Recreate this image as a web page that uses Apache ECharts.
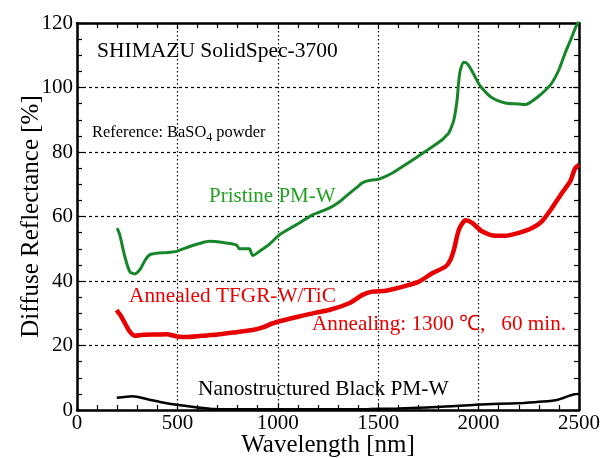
<!DOCTYPE html>
<html>
<head>
<meta charset="utf-8">
<script src="https://cdn.jsdelivr.net/npm/echarts@6/dist/echarts.min.js"></script>
<style>
  html, body { margin: 0; padding: 0; background: #fff; }
  #chart { width: 600px; height: 458px; }
</style>
</head>
<body>
<div id="chart"></div>
<script>
// Diffuse reflectance spectra (SolidSpec-3700, BaSO4 reference)
const pristineWl = [200, 213, 238, 263, 288, 313, 340, 362, 396, 445, 495, 561, 620, 660, 720, 793, 809, 859, 866, 875, 909, 960, 1008, 1060, 1107, 1173, 1256, 1306, 1340, 1389, 1420, 1438, 1470, 1504, 1571, 1637, 1736, 1819, 1836, 1850, 1860, 1877, 1893, 1902, 1910, 1926, 1945, 1968, 1985, 2009, 2067, 2133, 2200, 2233, 2260, 2299, 2330, 2365, 2400, 2431, 2460, 2489, 2500];
const pristineR = [56.4, 54.3, 47.6, 42.9, 42.2, 43.5, 46.5, 48.1, 48.6, 48.8, 49.2, 50.7, 51.8, 52.3, 52.0, 51.2, 50.0, 50.0, 49.0, 47.9, 49.2, 51.5, 54.3, 56.3, 58.0, 60.5, 62.6, 64.5, 66.3, 68.8, 70.4, 70.9, 71.3, 71.6, 73.5, 76.1, 80.2, 83.8, 84.9, 85.8, 87.0, 90.0, 96.2, 102.5, 105.6, 107.8, 107.3, 105.0, 103.0, 100.4, 96.8, 95.2, 94.9, 94.7, 95.5, 97.3, 99.0, 101.4, 105.5, 110.7, 115.0, 119.5, 120.5];

const annealedWl = [197, 215, 230, 263, 290, 329, 400, 445, 500, 545, 620, 700, 776, 875, 925, 975, 1040, 1107, 1190, 1256, 1355, 1422, 1471, 1538, 1637, 1703, 1769, 1836, 1860, 1877, 1902, 1935, 1968, 2017, 2084, 2133, 2200, 2266, 2315, 2365, 2415, 2456, 2481, 2500];
const annealedR = [31.0, 29.5, 27.9, 24.3, 23.0, 23.3, 23.4, 23.5, 22.8, 22.6, 23.0, 23.4, 24.0, 24.8, 25.6, 26.9, 28.0, 29.0, 30.2, 31.0, 33.1, 35.7, 36.7, 37.0, 38.5, 39.8, 42.4, 44.5, 46.6, 49.7, 55.9, 58.8, 58.0, 55.4, 54.0, 54.0, 54.9, 56.4, 58.5, 62.6, 67.3, 70.9, 75.0, 76.0];

const blackWl = [198, 275, 360, 420, 497, 600, 685, 800, 1000, 1200, 1454, 1600, 1796, 1985, 2100, 2224, 2320, 2395, 2446, 2472, 2500];
const blackR = [3.8, 4.3, 3.2, 2.4, 1.6, 0.8, 0.3, 0.2, 0.2, 0.2, 0.3, 0.5, 0.9, 1.6, 1.9, 2.2, 2.6, 3.2, 4.3, 4.8, 5.0];

const xTicks = { min: 0, max: 2500, interval: 500 };
const yTicks = { min: 0, max: 120, interval: 20 };

const FONT = '"Liberation Serif", "Times New Roman", serif';
const GREEN_LINE = '#17862a';
const GREEN_TEXT = '#22a022';
const RED = '#e60000';

function zip(xs, ys) { return xs.map((x, i) => [x, ys[i]]); }

const frameLine = { show: true, onZero: false, lineStyle: { color: '#000', width: 2.5 } };
const tickIn = { show: true, inside: true, length: 6, lineStyle: { color: '#000', width: 1.2 } };

function minor(n) {
  return { show: true, splitNumber: n, length: 5, lineStyle: { color: '#000', width: 1.2 } };
}

const chart = echarts.init(document.getElementById('chart'));
chart.setOption({
  animation: false,
  backgroundColor: '#fff',
  grid: { left: 77, right: 21, top: 23, bottom: 48, containLabel: false, outerBoundsMode: 'none' },
  xAxis: [
    {
      type: 'value', position: 'bottom', ...xTicks,
      axisLine: frameLine, axisTick: tickIn, minorTick: minor(5),
      splitLine: { show: true, lineStyle: { color: '#000', width: 1.2, type: [1.5, 2.5] } },
      axisLabel: { color: '#000', fontFamily: FONT, fontSize: 21, margin: 3, formatter: v => String(v) },
      name: 'Wavelength [nm]', nameLocation: 'middle', nameGap: 23, nameMoveOverlap: false,
      nameTextStyle: { color: '#000', fontFamily: FONT, fontSize: 25 }
    },
    {
      type: 'value', position: 'top', ...xTicks,
      axisLine: frameLine, axisTick: tickIn, minorTick: minor(5),
      splitLine: { show: false }, axisLabel: { show: false }
    }
  ],
  yAxis: [
    {
      type: 'value', position: 'left', ...yTicks,
      axisLine: frameLine, axisTick: tickIn, minorTick: minor(4),
      splitLine: { show: true, lineStyle: { color: '#000', width: 1.2, type: [3, 3] } },
      axisLabel: { color: '#000', fontFamily: FONT, fontSize: 21, margin: 4, formatter: v => String(v) },
      name: 'Diffuse Reflectance [%]', nameLocation: 'middle', nameGap: 33, nameMoveOverlap: false,
      nameTextStyle: { color: '#000', fontFamily: FONT, fontSize: 25 }
    },
    {
      type: 'value', position: 'right', ...yTicks,
      axisLine: frameLine, axisTick: tickIn, minorTick: minor(4),
      splitLine: { show: false }, axisLabel: { show: false }
    }
  ],
  series: [
    {
      name: 'Pristine PM-W', type: 'line', xAxisIndex: 0, yAxisIndex: 0,
      data: zip(pristineWl, pristineR), showSymbol: false, smooth: 0.25,
      lineStyle: { color: GREEN_LINE, width: 3 }, z: 3
    },
    {
      name: 'Annealed TFGR-W/TiC', type: 'line', xAxisIndex: 0, yAxisIndex: 0,
      data: zip(annealedWl, annealedR), showSymbol: false, smooth: 0.25,
      lineStyle: { color: RED, width: 4.5 }, z: 3
    },
    {
      name: 'Nanostructured Black PM-W', type: 'line', xAxisIndex: 0, yAxisIndex: 0,
      data: zip(blackWl, blackR), showSymbol: false, smooth: 0.25,
      lineStyle: { color: '#000', width: 2.5 }, z: 3
    }
  ],
  graphic: [
    { type: 'text', left: 97, top: 40, style: { text: 'SHIMAZU SolidSpec-3700', font: '21.5px ' + FONT, fill: '#000' } },
    {
      type: 'text', left: 92, top: 125,
      style: {
        text: 'Reference: BaSO{sub|4} powder', font: '16.4px ' + FONT, fill: '#000',
        rich: { sub: { font: '12px ' + FONT, fill: '#000', padding: [9, 0, 0, 0] } }
      }
    },
    { type: 'text', left: 209, top: 186, style: { text: 'Pristine PM-W', font: '21px ' + FONT, fill: GREEN_TEXT } },
    { type: 'text', left: 129, top: 286, style: { text: 'Annealed TFGR-W/TiC', font: '21.3px ' + FONT, fill: RED } },
    { type: 'text', left: 312, top: 314, style: { text: 'Annealing: 1300 \u2103,   60 min.', font: '21.2px ' + FONT, fill: RED } },
    { type: 'text', left: 198, top: 379, style: { text: 'Nanostructured Black PM-W', font: '21.4px ' + FONT, fill: '#000' } }
  ]
});
</script>
</body>
</html>
